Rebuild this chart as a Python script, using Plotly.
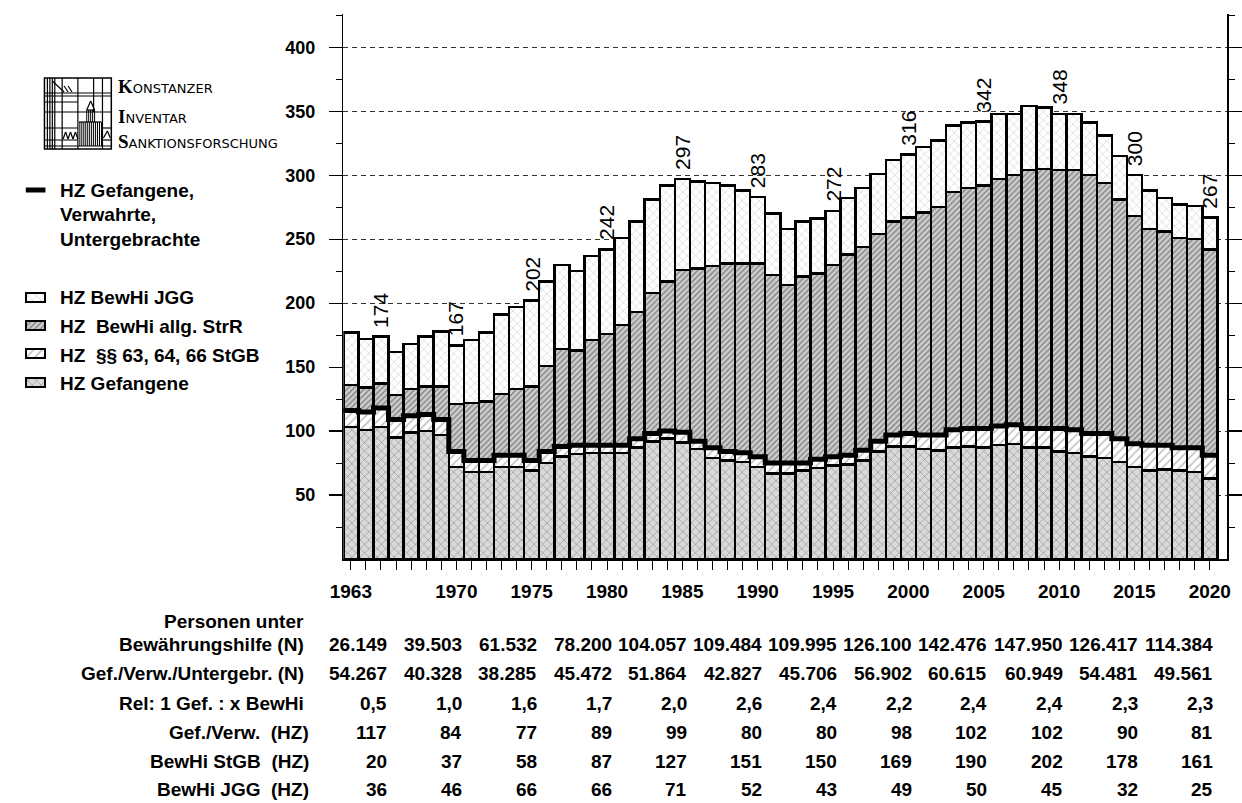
import plotly.graph_objects as go

# ---------------- data ----------------
years = list(range(1963, 2021))
# Haeufigkeitszahlen (HZ) per bar segment
gefangene = [103,101,103,95,99,100,97,72,68,68,72,72,69,75,80,82,83,83,83,87,92,94,91,86,79,77,76,72,67,67,69,71,73,74,77,84,88,88,86,85,87,88,87,89,90,87,87,84,83,80,79,76,72,69,70,69,68,63]
massregel = [13,14,15,14,13,13,12,12,9,9,9,9,8,9,8,7,6,6,6,7,6,6,8,6,8,7,7,8,8,8,6,7,7,7,8,8,9,10,11,12,14,14,15,15,15,15,15,18,18,18,19,18,18,20,19,18,19,18]
bewhi_stgb = [20,19,19,19,21,22,26,37,45,46,48,52,58,67,76,74,82,87,94,99,110,117,127,135,142,147,148,151,147,139,146,145,150,157,159,162,167,169,174,178,186,188,190,193,195,202,203,202,203,202,196,187,178,169,167,164,163,161]
bewhi_jgg = [41,38,37,34,35,39,43,46,49,54,62,64,67,66,66,62,66,66,68,71,73,75,71,68,65,61,57,52,48,44,43,43,42,44,46,47,48,49,51,52,52,51,50,51,48,50,48,44,44,41,37,34,32,30,26,26,26,25]

label_years = [1965, 1970, 1975, 1980, 1985, 1990, 1995, 2000, 2005, 2010, 2015, 2020]
label_values = [174, 167, 202, 242, 297, 283, 272, 316, 342, 348, 300, 267]

tick_years = [1963, 1970, 1975, 1980, 1985, 1990, 1995, 2000, 2005, 2010, 2015, 2020]
y_ticks = [50, 100, 150, 200, 250, 300, 350, 400]
y_minor = [25, 75, 125, 175, 225, 275, 325, 375, 425]

table_labels = ["Bewährungshilfe (N)", "Gef./Verw./Untergebr. (N)", "Rel: 1 Gef. : x BewHi",
                "Gef./Verw.\u00a0\u00a0(HZ)", "BewHi StGB\u00a0\u00a0(HZ)", "BewHi JGG\u00a0\u00a0(HZ)"]
bewhi_n = ["26.149","39.503","61.532","78.200","104.057","109.484","109.995","126.100","142.476","147.950","126.417","114.384"]
gef_n = ["54.267","40.328","38.285","45.472","51.864","42.827","45.706","56.902","60.615","60.949","54.481","49.561"]
rel = ["0,5","1,0","1,6","1,7","2,0","2,6","2,4","2,2","2,4","2,4","2,3","2,3"]
gef_hz = [117, 84, 77, 89, 99, 80, 80, 98, 102, 102, 90, 81]
stgb_hz = [20, 37, 58, 87, 127, 151, 150, 169, 190, 202, 178, 161]
jgg_hz = [36, 46, 66, 66, 71, 52, 43, 49, 50, 45, 32, 25]

legend_line_text = ["HZ Gefangene,", "Verwahrte,", "Untergebrachte"]
legend_bar_text = ["HZ BewHi JGG", "HZ\u00a0\u00a0BewHi allg. StrR", "HZ\u00a0\u00a0§§ 63, 64, 66 StGB", "HZ Gefangene"]

# ---------------- styling ----------------
W, H = 1242, 803
def px(x):
    return x / W
def py(y):
    return 1 - y / H

FONT = "Liberation Sans, Arial, sans-serif"
patterns = {
    "gef": dict(shape="x", bgcolor="#dadada", fgcolor="#1c1c1c", size=6, solidity=0.16),
    "mr": dict(shape="/", bgcolor="#ffffff", fgcolor="#7a7a7a", size=6, solidity=0.25),
    "stgb": dict(shape="/", bgcolor="#cdcdcd", fgcolor="#2a2a2a", size=4, solidity=0.3),
    "jgg": dict(shape="x", bgcolor="#ffffff", fgcolor="#8a8a8a", size=6, solidity=0.16),
}

fig = go.Figure()

series = [("gef", gefangene), ("mr", massregel), ("stgb", bewhi_stgb), ("jgg", bewhi_jgg)]
for key, vals in series:
    p = patterns[key]
    fig.add_trace(go.Bar(
        x=years, y=vals,
        marker=dict(color=p["bgcolor"], pattern=p, line=dict(color="black", width=2.5)),
        showlegend=False, hoverinfo="skip",
    ))

# thick step line: Gefangene + Verwahrte + Untergebrachte
line_vals = [g + m for g, m in zip(gefangene, massregel)]
edges = [y - 0.5 for y in years] + [years[-1] + 0.5]
fig.add_trace(go.Scatter(
    x=edges, y=line_vals + [line_vals[-1]], mode="lines",
    line=dict(color="black", width=5, shape="hv"),
    showlegend=False, hoverinfo="skip",
))

# legend swatches on a tiny auxiliary axis
for i, key in enumerate(["gef", "mr", "stgb", "jgg"]):
    p = patterns[key]
    fig.add_trace(go.Bar(
        x=[1], y=[i], base=0, orientation="h", width=0.32,
        xaxis="x2", yaxis="y2",
        marker=dict(color=p["bgcolor"], pattern=p, line=dict(color="black", width=2)),
        showlegend=False, hoverinfo="skip",
    ))

annotations = []
# total labels
for yr, v in zip(label_years, label_values):
    annotations.append(dict(
        x=yr, y=v, xref="x", yref="y", text=str(v), textangle=-90,
        showarrow=False, xanchor="center", yanchor="bottom", yshift=7,
        font=dict(family=FONT, size=21, color="black"),
    ))

bold = dict(family=FONT, size=19, color="black", weight="bold")

# table
col_x = [382 + 76.4 * i for i in range(12)]
annotations.append(dict(x=px(298), y=py(621), xref="paper", yref="paper", text="Personen unter",
                        showarrow=False, xanchor="right", yanchor="middle", font=bold))
row_y = [644, 673, 703, 732, 761, 789]
row_vals = [bewhi_n, gef_n, rel, gef_hz, stgb_hz, jgg_hz]
row_lab_x = [298, 298, 298, 303, 303, 303]
for lab, ry, lx, vals in zip(table_labels, row_y, row_lab_x, row_vals):
    annotations.append(dict(x=px(lx), y=py(ry), xref="paper", yref="paper", text=lab,
                            showarrow=False, xanchor="right", yanchor="middle", font=bold))
    for cx, v in zip(col_x, vals):
        annotations.append(dict(x=px(cx), y=py(ry), xref="paper", yref="paper", text=str(v),
                                showarrow=False, xanchor="right", yanchor="middle", font=bold))

# legend texts
for t, ly in zip(legend_line_text, [190, 215, 239]):
    annotations.append(dict(x=px(46), y=py(ly), xref="paper", yref="paper", text=t,
                            showarrow=False, xanchor="left", yanchor="middle", font=bold))
for t, ly in zip(legend_bar_text, [297.5, 326.5, 355.5, 383.5]):
    annotations.append(dict(x=px(46), y=py(ly), xref="paper", yref="paper", text=t,
                            showarrow=False, xanchor="left", yanchor="middle", font=bold))

# logo text
logo_words = [("K", "ONSTANZER", 87), ("I", "NVENTAR", 116.5), ("S", "ANKTIONSFORSCHUNG", 141)]
for big, rest, ly in logo_words:
    annotations.append(dict(
        x=px(105), y=py(ly), xref="paper", yref="paper",
        text='<span style="font-family:Liberation Serif;font-weight:bold;font-size:19px">' + big + '</span>' + rest,
        showarrow=False, xanchor="left", yanchor="middle",
        font=dict(family="DejaVu Sans, sans-serif", size=13, color="black"),
    ))

shapes = []
def seg(x0, y0, x1, y1, w=1.2):
    shapes.append(dict(type="line", xref="paper", yref="paper", x0=px(x0), y0=py(y0),
                       x1=px(x1), y1=py(y1), line=dict(color="black", width=w)))

# legend line swatch
seg(13, 190, 33, 190, 5)

# logo drawing
shapes.append(dict(type="rect", xref="paper", yref="paper", x0=px(32), y0=py(149), x1=px(100), y1=py(78),
                   line=dict(color="black", width=1.5)))
for vx in [35, 37.5, 40, 42.5, 50, 66, 91]:
    seg(vx, 78, vx, 149)
seg(82, 78, 82, 112)
for hy in [93, 96, 112, 146]:
    seg(32, hy, 100, hy)
for hy in [102, 128, 140]:
    seg(32, hy, 66, hy)
seg(91, 128, 100, 128)
seg(91, 140, 100, 140)
# pennant
seg(40, 81, 52, 92)
seg(52, 86, 56, 92)
seg(56, 86, 60, 92)
# building
for bx in range(68, 91, 2):
    seg(bx, 122, bx, 146, 1)
seg(67, 122, 90, 122)
for bx in [75, 77, 79, 81, 83]:
    seg(bx, 110, bx, 122, 1)
seg(75, 110, 79, 101)
seg(79, 101, 83, 110)
seg(75, 110, 83, 110)
# small triangles
for tx in [51, 56, 61]:
    seg(tx, 139, tx + 2.5, 132)
    seg(tx + 2.5, 132, tx + 5, 139)
seg(92, 138, 96, 131)
seg(96, 131, 99, 138)

fig.update_layout(
    width=W, height=H,
    margin=dict(l=0, r=0, t=0, b=0),
    paper_bgcolor="white", plot_bgcolor="white",
    barmode="stack", bargap=0,
    showlegend=False,
    annotations=annotations,
    shapes=shapes,
    xaxis=dict(
        domain=[px(336), px(1235)], range=[1962.5, 2021.15],
        tickvals=tick_years, ticktext=[str(t) for t in tick_years],
        ticks="outside", ticklen=9, tickwidth=1, tickcolor="black",
        showline=True, linecolor="black", linewidth=1.5,
        showgrid=False, zeroline=False,
        tickfont=dict(family=FONT, size=19, color="black", weight="bold"),
        ticklabelstandoff=6,
        minor=dict(tickvals=years, ticks="outside", ticklen=9, tickwidth=1, tickcolor="black", showgrid=False),
        anchor="y", fixedrange=True,
    ),
    yaxis=dict(
        domain=[py(559), py(14)], range=[0, 426],
        tickvals=y_ticks, ticks="outside", ticklen=13, tickwidth=1.2, tickcolor="black",
        showline=True, linecolor="black", linewidth=1.5, mirror="ticks",
        showgrid=True, gridcolor="#333333", gridwidth=1, griddash="5px,4px",
        zeroline=False,
        tickfont=dict(family=FONT, size=18, color="black", weight="bold"),
        ticklabelstandoff=10,
        minor=dict(tickvals=y_minor, ticks="outside", ticklen=6, tickwidth=1, tickcolor="black", showgrid=False),
        anchor="x", fixedrange=True,
    ),
    xaxis2=dict(domain=[px(11), px(35)], range=[-0.1, 1.1], visible=False, anchor="y2", fixedrange=True),
    yaxis2=dict(domain=[py(396.2), py(283.3)], range=[-0.5, 3.5], visible=False, anchor="x2", fixedrange=True),
)

fig.write_html(
    "out.html",
    config={"displayModeBar": False, "staticPlot": True},
    post_script="document.body.style.margin='0';document.body.style.padding='0';document.body.style.overflow='hidden';",
)
